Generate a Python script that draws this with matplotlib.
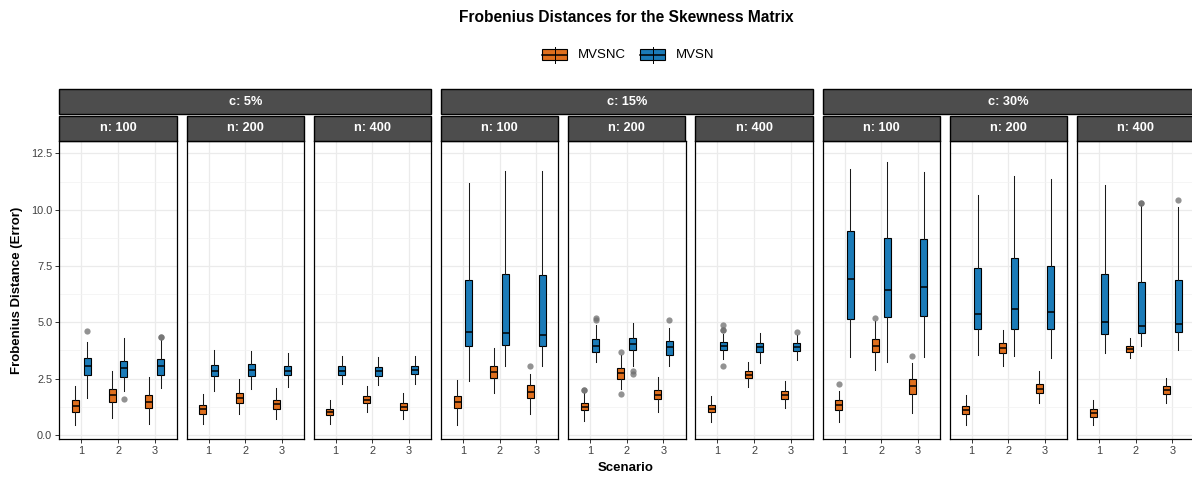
import matplotlib.pyplot as plt
from matplotlib.patches import Rectangle
from matplotlib.lines import Line2D
from matplotlib.ticker import FixedLocator, FormatStrFormatter

plt.rcParams['font.family'] = ['Liberation Sans', 'DejaVu Sans']

c_levels = ['5%', '15%', '30%']
n_levels = [100, 200, 400]
scenarios = [1, 2, 3]
methods = ['MVSNC', 'MVSN']
method_colors = ['#DF6F1D', '#1B7BB8']

# five-number summaries per panel (c x n order), one row per scenario:
# (lower whisker, q1, median, q3, upper whisker)
mvsnc_stats = [
    [(0.42, 1.04, 1.29, 1.56, 2.18), (0.77, 1.48, 1.78, 2.06, 2.85), (0.47, 1.19, 1.47, 1.76, 2.59)],
    [(0.47, 0.93, 1.14, 1.32, 1.81), (0.92, 1.41, 1.65, 1.88, 2.48), (0.71, 1.14, 1.36, 1.56, 2.09)],
    [(0.47, 0.87, 1.01, 1.14, 1.56), (1.04, 1.41, 1.57, 1.72, 2.18), (0.71, 1.10, 1.26, 1.41, 1.85)],
    [(0.44, 1.19, 1.45, 1.72, 2.45), (1.85, 2.52, 2.80, 3.08, 3.86), (0.92, 1.63, 1.91, 2.21, 2.70)],
    [(0.64, 1.10, 1.26, 1.44, 1.85), (2.03, 2.48, 2.74, 2.97, 3.53), (1.01, 1.59, 1.79, 2.00, 2.59)],
    [(0.59, 1.01, 1.16, 1.32, 1.73), (2.12, 2.52, 2.68, 2.83, 3.25), (1.19, 1.59, 1.76, 1.93, 2.40)],
    [(0.56, 1.10, 1.33, 1.56, 1.97), (2.89, 3.68, 3.97, 4.24, 5.04), (0.99, 1.82, 2.16, 2.49, 3.19)],
    [(0.46, 0.92, 1.11, 1.30, 1.78), (3.07, 3.66, 3.88, 4.06, 4.66), (1.41, 1.85, 2.06, 2.27, 2.83)],
    [(0.42, 0.79, 0.99, 1.14, 1.53), (3.40, 3.68, 3.81, 3.93, 4.30), (1.41, 1.82, 2.00, 2.18, 2.52)],
]
mvsn_stats = [
    [(1.66, 2.68, 3.07, 3.43, 4.11), (1.93, 2.59, 2.98, 3.29, 4.29), (2.09, 2.68, 3.07, 3.37, 4.23)],
    [(1.96, 2.62, 2.86, 3.11, 3.78), (2.03, 2.62, 2.89, 3.14, 3.71), (2.12, 2.65, 2.86, 3.07, 3.66)],
    [(2.25, 2.68, 2.86, 3.04, 3.50), (2.21, 2.62, 2.85, 3.01, 3.47), (2.28, 2.71, 2.89, 3.07, 3.50)],
    [(2.40, 3.93, 4.57, 6.90, 11.19), (3.07, 3.99, 4.51, 7.15, 11.70), (3.07, 3.93, 4.43, 7.10, 11.74)],
    [(3.22, 3.69, 3.97, 4.24, 4.89), (3.04, 3.75, 4.03, 4.30, 4.97), (3.08, 3.57, 3.90, 4.17, 4.76)],
    [(3.37, 3.75, 3.93, 4.11, 4.48), (3.19, 3.69, 3.90, 4.08, 4.52), (3.31, 3.74, 3.91, 4.08, 4.43)],
    [(3.48, 5.16, 6.92, 9.07, 11.82), (3.26, 5.23, 6.45, 8.75, 12.13), (3.48, 5.26, 6.57, 8.69, 11.68)],
    [(3.57, 4.70, 5.38, 7.41, 10.66), (3.51, 4.69, 5.59, 7.86, 11.49), (3.43, 4.69, 5.46, 7.49, 11.37)],
    [(3.62, 4.49, 5.00, 7.15, 11.08), (3.97, 4.51, 4.82, 6.81, 10.19), (3.78, 4.57, 4.91, 6.90, 10.13)],
]

# outliers keyed by (panel index, scenario)
mvsnc_outliers = {
    (3, 3): [3.08],
    (4, 1): [2.00, 2.00],
    (4, 2): [3.68, 1.81],
    (6, 1): [2.28],
    (6, 2): [5.19],
    (6, 3): [3.50],
}
mvsn_outliers = {
    (0, 1): [4.61],
    (0, 2): [1.59],
    (0, 3): [4.37, 4.37],
    (4, 1): [5.19, 5.09],
    (4, 2): [2.86, 2.71],
    (4, 3): [5.09],
    (5, 1): [4.67, 4.67, 4.86, 3.08],
    (5, 3): [4.57],
    (8, 2): [10.29, 10.29],
    (8, 3): [10.45],
}

W, H = 1192, 479
fig = plt.figure(figsize=(W / 100, H / 100), dpi=100)


def fx(px):
    return px / W


def fy(py):
    return 1 - py / H


panel_left0 = 59.3
panel_step = 127.2
panel_w = 117.4
panel_top, panel_bot = 141.0, 439.0
nstrip_top = 115.7
cstrip_top, cstrip_bot = 89.3, 114.3
strip_color = '#4D4D4D'
offset = 0.16


def make_stats(row, outs):
    lo, q1, med, q3, hi = row
    return dict(whislo=lo, q1=q1, med=med, q3=q3, whishi=hi, fliers=outs)


def strip(x0, x1, y0, y1, label):
    fig.add_artist(Rectangle((fx(x0), fy(y1)), fx(x1) - fx(x0), fy(y0) - fy(y1),
                             transform=fig.transFigure, facecolor=strip_color,
                             edgecolor='black', linewidth=1.0))
    fig.text(fx((x0 + x1) / 2), fy((y0 + y1) / 2), label, color='white',
             fontsize=9.2, fontweight='bold', ha='center', va='center')


for ci, c in enumerate(c_levels):
    for ni, n in enumerate(n_levels):
        p = ci * 3 + ni
        left = panel_left0 + p * panel_step
        ax = fig.add_axes([fx(left), fy(panel_bot), fx(panel_w), fy(panel_top) - fy(panel_bot)])

        for mi, (stats_all, outs_all) in enumerate([(mvsnc_stats, mvsnc_outliers),
                                                    (mvsn_stats, mvsn_outliers)]):
            stats = [make_stats(stats_all[p][si], outs_all.get((p, s), []))
                     for si, s in enumerate(scenarios)]
            pos = [s + (offset if mi else -offset) for s in scenarios]
            ax.bxp(stats, positions=pos, widths=0.19, patch_artist=True,
                   showcaps=False, manage_ticks=False,
                   boxprops=dict(facecolor=method_colors[mi], edgecolor='black', linewidth=0.8),
                   medianprops=dict(color='black', linewidth=1.1),
                   whiskerprops=dict(color='#1a1a1a', linewidth=0.75),
                   flierprops=dict(marker='o', markerfacecolor='#6e6e6e',
                                   markeredgecolor='none', markersize=4.5, alpha=0.75))

        ax.set_xlim(0.4, 3.6)
        ax.set_ylim(-0.18, 13.05)
        ax.set_xticks(scenarios)
        ax.yaxis.set_major_locator(FixedLocator([0, 2.5, 5, 7.5, 10, 12.5]))
        ax.yaxis.set_minor_locator(FixedLocator([1.25, 3.75, 6.25, 8.75, 11.25]))
        ax.yaxis.set_major_formatter(FormatStrFormatter('%.1f'))
        ax.set_axisbelow(True)
        ax.grid(True, which='major', color='#EBEBEB', linewidth=0.9)
        ax.grid(True, which='minor', axis='y', color='#F2F2F2', linewidth=0.5)
        ax.tick_params(axis='both', which='major', length=3, width=0.7, color='#333333',
                       labelsize=7.9, labelcolor='#404040', pad=2)
        ax.tick_params(axis='y', which='minor', length=0)
        if p > 0:
            ax.tick_params(axis='y', which='major', left=False, labelleft=False)
        for sp in ax.spines.values():
            sp.set_color('black')
            sp.set_linewidth(0.9)

        strip(left, left + panel_w, nstrip_top, panel_top, f'n: {n}')

    group_left = panel_left0 + ci * 3 * panel_step
    strip(group_left, group_left + 2 * panel_step + panel_w, cstrip_top, cstrip_bot, f'c: {c}')

# titles
fig.text(fx(626), fy(17), 'Frobenius Distances for the Skewness Matrix',
         fontsize=11.2, fontweight='bold', ha='center', va='center')
fig.text(fx(626), fy(468), 'Scenario', fontsize=9.5, fontweight='bold', ha='center', va='center')
fig.text(fx(17), fy((panel_top + panel_bot) / 2), 'Frobenius Distance (Error)',
         fontsize=9.5, fontweight='bold', rotation=90, ha='center', va='center')

# legend keys drawn as small boxplot glyphs
key_x = [542, 640]
text_x = [578, 676]
for mi, m in enumerate(methods):
    x0, x1 = key_x[mi], key_x[mi] + 25
    y0, y1 = 49.3, 60.0
    xm = (x0 + x1) / 2
    fig.add_artist(Line2D([fx(xm), fx(xm)], [fy(46.5), fy(62.5)], transform=fig.transFigure,
                          color='black', linewidth=0.7))
    fig.add_artist(Rectangle((fx(x0), fy(y1)), fx(x1) - fx(x0), fy(y0) - fy(y1),
                             transform=fig.transFigure, facecolor=method_colors[mi],
                             edgecolor='black', linewidth=0.8))
    fig.add_artist(Line2D([fx(x0), fx(x1)], [fy(54.7), fy(54.7)], transform=fig.transFigure,
                          color='black', linewidth=1.1))
    fig.text(fx(text_x[mi]), fy(55), m, fontsize=9.5, ha='left', va='center')

fig.savefig('out.png', dpi=100)
